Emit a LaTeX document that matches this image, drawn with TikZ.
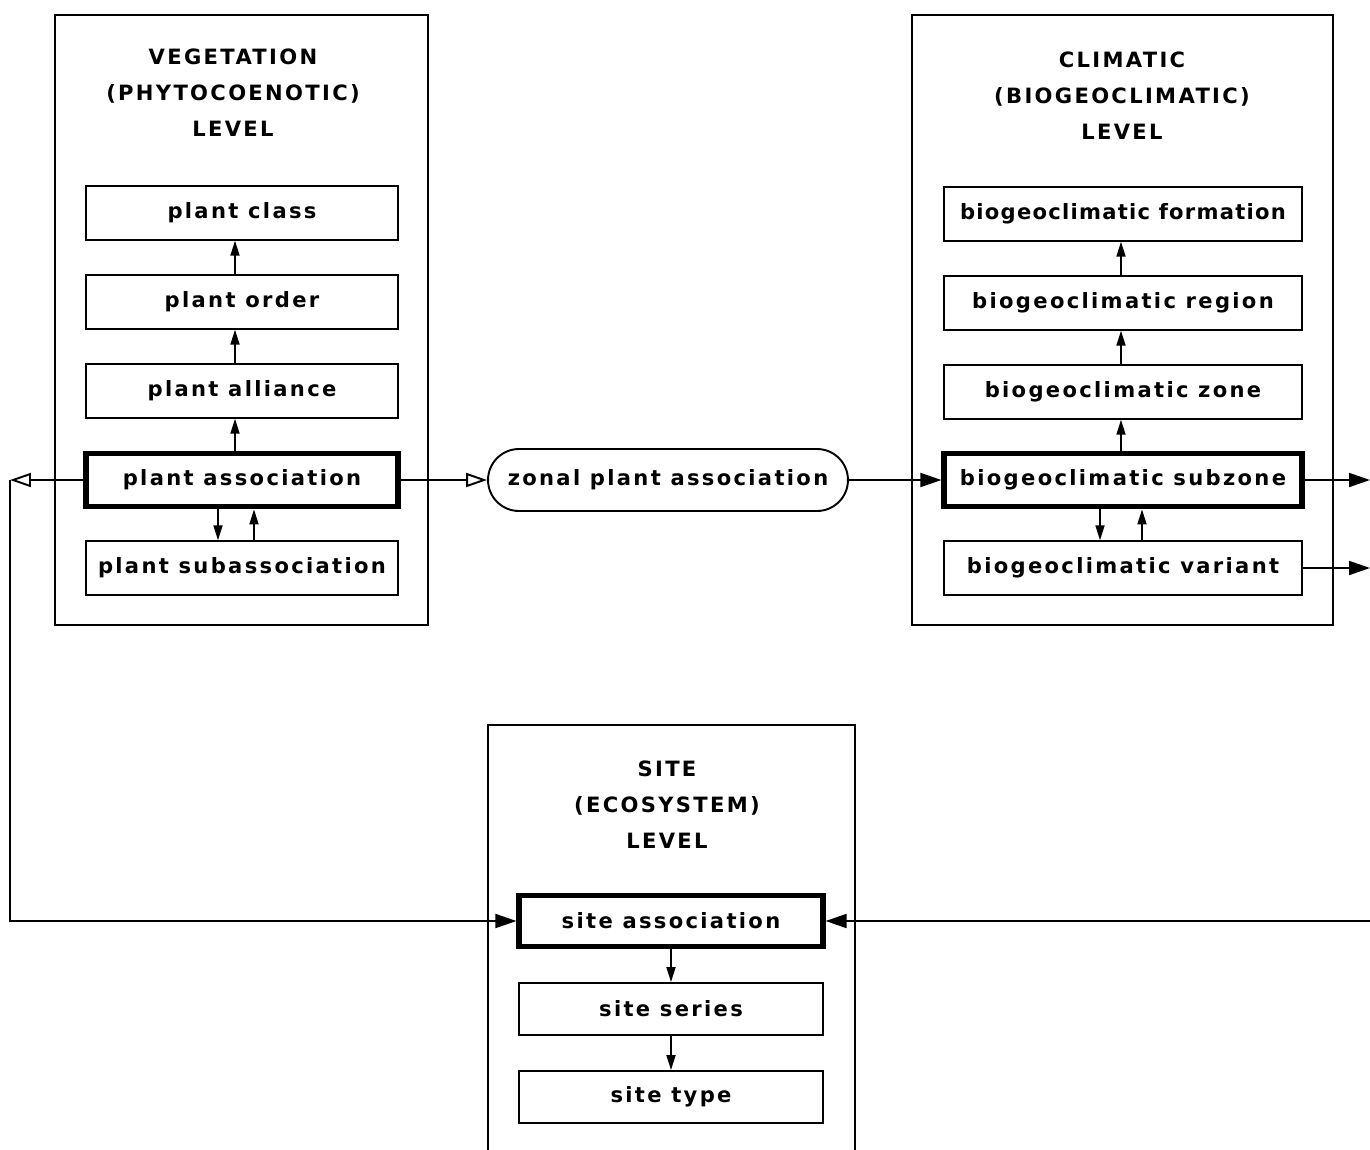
\documentclass[tikz,border=0pt]{standalone}
\usepackage{fontspec}
\usetikzlibrary{arrows.meta}
\newfontfamily\diagfont[LetterSpace=11]{DejaVu Sans}
\newfontfamily\tightfont[LetterSpace=6]{DejaVu Sans}
\tikzset{>={Triangle[length=0.42cm,width=0.28cm]}}
\tikzset{
    level/.style={draw,line width=1.2pt},
    title/.style={align=center,font=\diagfont\bfseries\fontsize{12}{20.5}\selectfont},
    unit/.style={draw,line width=1.1pt,minimum height=1.07cm,inner sep=0pt,
        font=\diagfont\bfseries\fontsize{12}{14}\selectfont},
    keyunit/.style={unit,line width=3pt},
    link/.style={->,line width=1.1pt},
    uplink/.style={-{Triangle[length=0.3cm,width=0.18cm]},line width=1pt},
}
\newcommand{\unitbox}[6][unit]{
    \node[#1,minimum width=#5cm] (#2) at (#3,#4) {#6};
}
\begin{document}
\begin{tikzpicture}[x=0.02cm,y=-0.02cm]
            \useasboundingbox (0,0) rectangle (1370,1150);
            % the three levels
            \node[level,minimum width=7.46cm,minimum height=12.2cm] (vegpanel) at (241.5,320) {};
            \node[level,minimum width=8.42cm,minimum height=12.2cm] (climpanel) at (1122.5,320) {};
            \draw[level] (488,1152) |- (855,725) -- (855,1152);
            \node[title] (vegtitle) at (233,93) {VEGETATION\\(PHYTOCOENOTIC)\\LEVEL};
            \node[title] (climtitle) at (1122,96) {CLIMATIC\\(BIOGEOCLIMATIC)\\LEVEL};
            \node[title] (sitetitle) at (667,805) {SITE\\(ECOSYSTEM)\\LEVEL};
            % vegetation units
            \unitbox{pc}{242}{213}{6.24}{plant class}
            \unitbox{po}{242}{302}{6.24}{plant order}
            \unitbox{pl}{242}{391}{6.24}{plant alliance}
            \unitbox[keyunit]{pa}{242}{480}{6.24}{plant association}
            \unitbox{ps}{242}{568}{6.24}{plant subassociation}
            % climatic units
            \unitbox[unit,font=\tightfont\bfseries\fontsize{12}{14}\selectfont]{bf}{1123}{214}{7.16}{biogeoclimatic formation}
            \unitbox{br}{1123}{303}{7.16}{biogeoclimatic region}
            \unitbox{bz}{1123}{392}{7.16}{biogeoclimatic zone}
            \unitbox[keyunit]{bs}{1123}{480}{7.16}{biogeoclimatic subzone}
            \unitbox{bv}{1123}{568}{7.16}{biogeoclimatic variant}
            % site units
            \unitbox[keyunit,minimum height=1.02cm]{sa}{671}{921}{6.08}{site association}
            \unitbox[unit,minimum height=1.04cm]{sr}{671}{1009}{6.08}{site series}
            \unitbox[unit,minimum height=1.04cm]{st}{671}{1097}{6.08}{site type}
            \node[unit,rounded corners=0.62cm,minimum width=7.2cm,minimum height=1.24cm] (zpa) at (668,480) {zonal plant association};
            % hierarchy links
            \draw[uplink] ([xshift=-0.14cm]po.north) -- ([xshift=-0.14cm]pc.south);
            \draw[uplink] ([xshift=-0.14cm]pl.north) -- ([xshift=-0.14cm]po.south);
            \draw[uplink] ([xshift=-0.14cm]pa.north) -- ([xshift=-0.14cm]pl.south);
            \draw[uplink] ([xshift=-0.48cm]pa.south) -- ([xshift=-0.48cm]ps.north);
            \draw[uplink] ([xshift=0.24cm]ps.north) -- ([xshift=0.24cm]pa.south);
            \draw[uplink] ([xshift=-0.04cm]br.north) -- ([xshift=-0.04cm]bf.south);
            \draw[uplink] ([xshift=-0.04cm]bz.north) -- ([xshift=-0.04cm]br.south);
            \draw[uplink] ([xshift=-0.04cm]bs.north) -- ([xshift=-0.04cm]bz.south);
            \draw[uplink] ([xshift=-0.46cm]bs.south) -- ([xshift=-0.46cm]bv.north);
            \draw[uplink] ([xshift=0.38cm]bv.north) -- ([xshift=0.38cm]bs.south);
            \draw[uplink] (sa.south) -- (sr.north);
            \draw[uplink] (sr.south) -- (st.north);
            % links between levels
            \coordinate (wturn) at (10,480);
            \coordinate (eout1) at (1370,480);
            \coordinate (eout2) at (1370,568);
            \coordinate (ein) at (1370,921);
            \draw[link,-{Triangle[open,length=0.42cm,width=0.28cm]}] (pa.west) -- (wturn);
            \draw[link] (wturn) |- (sa.west);
            \draw[link,-{Triangle[open,length=0.42cm,width=0.28cm]}] (pa.east) -- (zpa.west);
            \draw[link] (zpa.east) -- (bs.west);
            \draw[link] (bs.east) -- (eout1);
            \draw[link] (bv.east) -- (eout2);
            \draw[link] (ein) -- (sa.east);
        \end{tikzpicture}
\end{document}
